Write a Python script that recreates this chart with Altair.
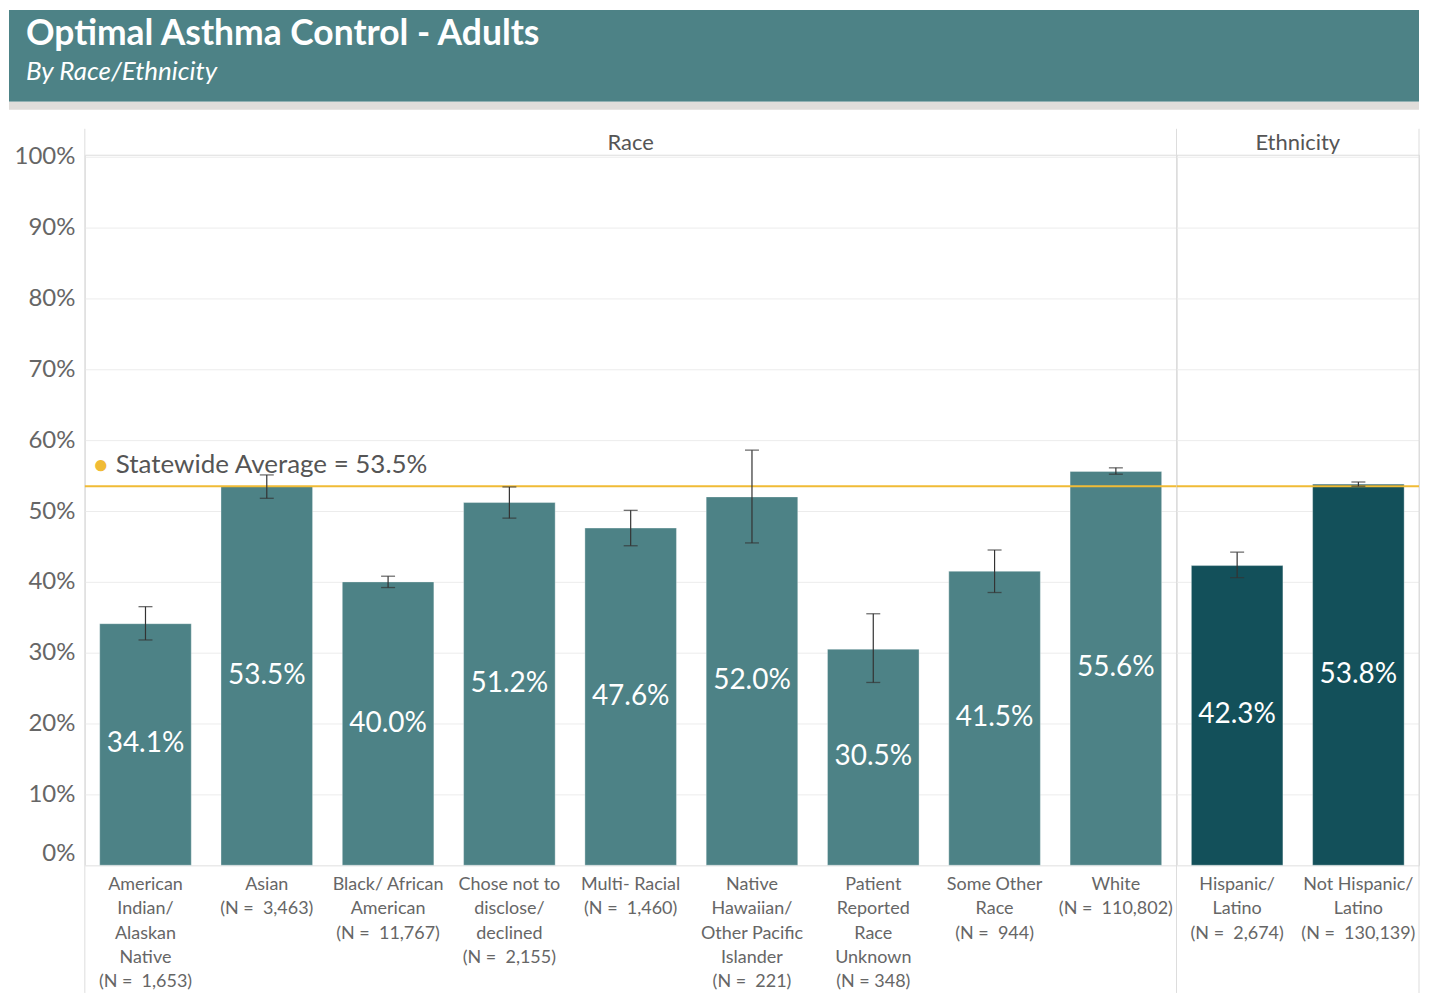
import altair as alt
import pandas as pd

# ---------------- data ----------------
title_text = "Optimal Asthma Control - Adults"
subtitle_text = "By Race/Ethnicity"
panel_titles = ["Race", "Ethnicity"]

race_categories = [
    "American|Indian/|Alaskan|Native|(N =\u00a0 1,653)",
    "Asian|(N =\u00a0 3,463)",
    "Black/ African|American|(N =\u00a0 11,767)",
    "Chose not to|disclose/|declined|(N =\u00a0 2,155)",
    "Multi- Racial|(N =\u00a0 1,460)",
    "Native|Hawaiian/|Other Pacific|Islander|(N =\u00a0 221)",
    "Patient|Reported|Race|Unknown|(N = 348)",
    "Some Other|Race|(N =\u00a0 944)",
    "White|(N =\u00a0 110,802)",
]
race_values = [34.1, 53.5, 40.0, 51.2, 47.6, 52.0, 30.5, 41.5, 55.6]
race_lo = [31.8, 51.8, 39.2, 49.0, 45.1, 45.5, 25.8, 38.5, 55.2]
race_hi = [36.5, 55.1, 40.8, 53.4, 50.1, 58.6, 35.5, 44.5, 56.1]

eth_categories = [
    "Hispanic/|Latino|(N =\u00a0 2,674)",
    "Not Hispanic/|Latino|(N =\u00a0 130,139)",
]
eth_values = [42.3, 53.8]
eth_lo = [40.6, 53.5]
eth_hi = [44.2, 54.1]

statewide_avg = 53.5
y_ticks = [0, 10, 20, 30, 40, 50, 60, 70, 80, 90, 100]

# ---------------- style ----------------
TEAL = "#4d8286"
DARK = "#13505a"
GOLD = "#f0bb36"
FONT = "Lato"
W_RACE = 1094
W_ETH = 243
AXIS_W = 76
PLOT_W = W_RACE + W_ETH
H = 712
YMAX = 100.3


def panel(cats, vals, lo, hi, color, width, title, first):
    df = pd.DataFrame({"cat": cats, "value": vals, "lo": lo, "hi": hi})
    base = alt.Chart(df).transform_calculate(
        mid="datum.value / 2",
        label="format(datum.value, '.1f') + '%'",
    )
    xenc = alt.X(
        "cat:N",
        sort=cats,
        title=None,
        scale=alt.Scale(paddingInner=0.245, paddingOuter=0.1225),
        axis=alt.Axis(
            labelAngle=0, ticks=False, domain=False, grid=False,
            labelExpr="split(datum.label, '|')",
            labelFontSize=18, labelColor="#666666", labelFont=FONT,
            labelPadding=10, labelLineHeight=24.5,
            labelOverlap=False, labelLimit=0,
        ),
    )
    yscale = alt.Scale(domain=[0, YMAX], nice=False)
    if first:
        yaxis = alt.Axis(
            values=y_ticks, labelExpr="datum.value + '%'", title=None,
            ticks=False, domain=False, gridColor="#ececec",
            labelFontSize=24, labelColor="#666666", labelFont=FONT,
            labelPadding=10, labelFlush=True, minExtent=AXIS_W,
        )
    else:
        yaxis = alt.Axis(
            values=y_ticks, labels=False, title=None, ticks=False,
            domain=False, gridColor="#ececec",
        )

    one = alt.Chart(pd.DataFrame({"t": [title]}))
    vlines = [
        one.mark_rule(color="#dddddd", strokeWidth=1).encode(
            x=alt.value(0), y=alt.value(-26), y2=alt.value(H + 128)
        )
    ]
    if not first:
        vlines.append(
            one.mark_rule(color="#dddddd", strokeWidth=1).encode(
                x=alt.value(width), y=alt.value(-26), y2=alt.value(H + 128)
            )
        )
    header = one.mark_text(
        fontSize=22, color="#555555", font=FONT, baseline="middle"
    ).encode(x=alt.value(width / 2), y=alt.value(-12), text="t:N")

    bars = base.mark_bar(
        color=color, stroke="white", strokeOpacity=0.35, strokeWidth=1
    ).encode(x=xenc, y=alt.Y("value:Q", scale=yscale, axis=yaxis))

    avg_df = pd.DataFrame({
        "avg": [statewide_avg],
        "txt": [f"Statewide Average = {statewide_avg}%"],
    })
    avg_base = alt.Chart(avg_df)
    avg_rule = avg_base.mark_rule(color=GOLD, strokeWidth=2).encode(y="avg:Q")

    err = base.mark_rule(color="#333333", strokeWidth=1.2).encode(
        x=xenc, y="lo:Q", y2="hi:Q"
    )
    cap_lo = base.mark_tick(color="#333333", size=14, thickness=1.3).encode(
        x=xenc, y="lo:Q"
    )
    cap_hi = base.mark_tick(color="#333333", size=14, thickness=1.3).encode(
        x=xenc, y="hi:Q"
    )
    vtext = base.mark_text(
        color="white", fontSize=28, font=FONT, baseline="middle"
    ).encode(x=xenc, y="mid:Q", text="label:N")

    layers = vlines + [header, bars, avg_rule, err, cap_lo, cap_hi, vtext]
    if first:
        dot = avg_base.mark_text(
            text="\u25cf", color=GOLD, fontSize=26, baseline="middle", dy=-21
        ).encode(x=alt.value(16), y="avg:Q")
        lab = avg_base.mark_text(
            align="left", baseline="middle", fontSize=26, font=FONT,
            color="#555555", dy=-21,
        ).encode(x=alt.value(31), y="avg:Q", text="txt:N")
        layers += [dot, lab]

    return alt.layer(*layers).properties(
        width=width, height=H,
        view=alt.ViewBackground(stroke="#dddddd"),
    )


race = panel(race_categories, race_values, race_lo, race_hi, TEAL, W_RACE,
             panel_titles[0], True)
eth = panel(eth_categories, eth_values, eth_lo, eth_hi, DARK, W_ETH,
            panel_titles[1], False)

band_df = pd.DataFrame({"title": [title_text], "subtitle": [subtitle_text]})
bb = alt.Chart(band_df)
band = alt.layer(
    bb.mark_rect(color=TEAL).encode(
        x=alt.value(-AXIS_W), x2=alt.value(PLOT_W), y=alt.value(0), y2=alt.value(92)
    ),
    bb.mark_rect(color="#e0ddda").encode(
        x=alt.value(-AXIS_W), x2=alt.value(PLOT_W), y=alt.value(92), y2=alt.value(100)
    ),
    bb.mark_text(
        align="left", baseline="middle", fontSize=35.5, fontWeight="bold",
        color="white", font=FONT,
    ).encode(x=alt.value(17 - AXIS_W), y=alt.value(24), text="title:N"),
    bb.mark_text(
        align="left", baseline="middle", fontSize=26, fontStyle="italic",
        color="white", font=FONT,
    ).encode(x=alt.value(17 - AXIS_W), y=alt.value(62), text="subtitle:N"),
).properties(
    width=PLOT_W, height=100, view=alt.ViewBackground(stroke="transparent")
)

chart = alt.vconcat(
    band,
    alt.hconcat(race, eth, spacing=0, bounds="flush"),
    spacing=17,
).properties(padding=0, background="white")

chart.save("out.html", embed_options={"renderer": "svg", "actions": False})
